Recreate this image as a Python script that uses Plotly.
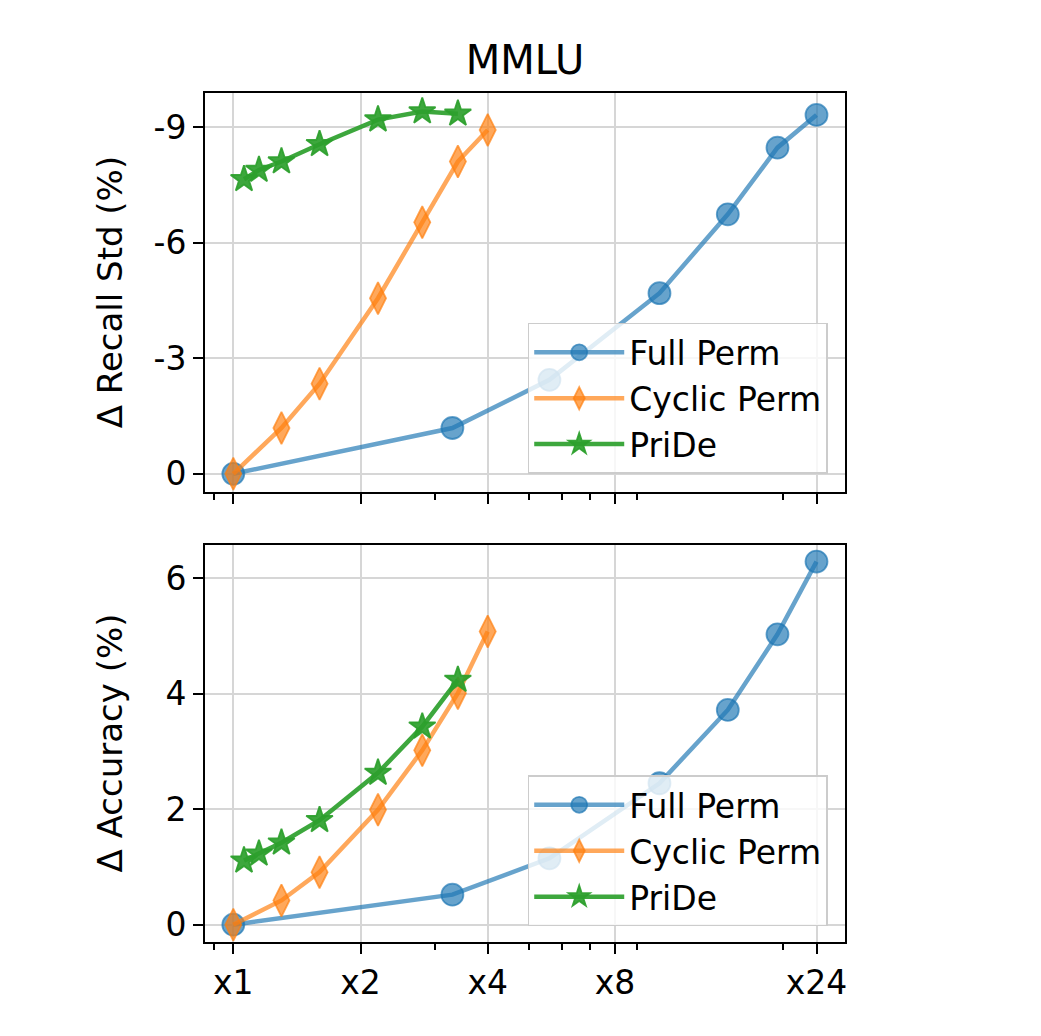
import math
import plotly.graph_objects as go

# ---------------- data ----------------
budget_full = [1, 3.3, 5.6, 10.2, 14.8, 19.4, 24]
budget_cyclic = [1, 1.3, 1.6, 2.2, 2.8, 3.4, 4]
budget_pride = [1.06, 1.15, 1.3, 1.6, 2.2, 2.8, 3.4]

recall_full = [0, -1.19, -2.44, -4.69, -6.74, -8.47, -9.32]
recall_cyclic = [0, -1.19, -2.34, -4.56, -6.53, -8.11, -8.93]
recall_pride = [-7.65, -7.89, -8.11, -8.56, -9.20, -9.41, -9.35]

acc_full = [0, 0.52, 1.15, 2.45, 3.72, 5.03, 6.29]
acc_cyclic = [0, 0.42, 0.91, 1.99, 3.02, 4.01, 5.08]
acc_pride = [1.11, 1.23, 1.42, 1.81, 2.63, 3.43, 4.24]

series_names = ["Full Perm", "Cyclic Perm", "PriDe"]
x_tickvals = [1, 2, 4, 8, 24]
x_ticktext = ["x1", "x2", "x4", "x8", "x24"]
x_minor = [0.9, 3, 5, 6, 7, 9, 20]
recall_tickvals = [0, -3, -6, -9]
recall_ticktext = ["0", "-3", "-6", "-9"]
acc_tickvals = [0, 2, 4, 6]
acc_ticktext = ["0", "2", "4", "6"]

# ---------------- style ----------------
FONT = "DejaVu Sans"
styles = [
    dict(rgb=(31, 119, 180), a=0.68, symbol="circle", size=22),
    dict(rgb=(255, 127, 14), a=0.68, symbol="diamond-tall", size=23),
    dict(rgb=(44, 160, 44), a=0.92, symbol="star", size=20),
]


def rgba(rgb, a):
    return "rgba(%d,%d,%d,%.3f)" % (rgb[0], rgb[1], rgb[2], a)


fig = go.Figure()

panels = [
    ([budget_full, budget_cyclic, budget_pride], [recall_full, recall_cyclic, recall_pride], "x", "y", "legend"),
    ([budget_full, budget_cyclic, budget_pride], [acc_full, acc_cyclic, acc_pride], "x2", "y2", "legend2"),
]

for xs_list, ys_list, xa, ya, lg in panels:
    for name, xs, ys, st in zip(series_names, xs_list, ys_list, styles):
        c = rgba(st["rgb"], st["a"])
        fig.add_trace(go.Scatter(
            x=xs, y=ys, name=name, mode="lines+markers",
            xaxis=xa, yaxis=ya, legend=lg,
            line=dict(color=c, width=4.5),
            marker=dict(symbol=st["symbol"], size=st["size"], color=c,
                        line=dict(color=c, width=1.8)),
        ))

xr = [math.log10(2 ** -0.2225), math.log10(2 ** 4.809)]

common_x = dict(
    type="log", range=xr, tickmode="array", tickvals=x_tickvals, ticktext=x_ticktext,
    showline=True, mirror=True, linecolor="black", linewidth=2,
    ticks="outside", ticklen=10, tickwidth=2, tickcolor="black",
    showgrid=True, gridcolor="#d6d6d6", gridwidth=1.5,
    minor=dict(tickmode="array", tickvals=x_minor, ticks="outside", ticklen=6,
               tickwidth=1.5, tickcolor="black", showgrid=False),
    tickfont=dict(family=FONT, size=33, color="black"),
)
common_y = dict(
    showline=True, mirror=True, linecolor="black", linewidth=2,
    ticks="outside", ticklen=10, tickwidth=2, tickcolor="black",
    showgrid=True, gridcolor="#d6d6d6", gridwidth=1.5, zeroline=False,
    tickfont=dict(family=FONT, size=33, color="black"),
)

legend_common = dict(
    xanchor="right", yanchor="bottom", x=0.973,
    bgcolor="rgba(255,255,255,0.8)", bordercolor="#cccccc", borderwidth=1.5,
    font=dict(family=FONT, size=33, color="black"),
    itemwidth=90, tracegroupgap=0,
)

fig.update_layout(
    width=1041, height=1036,
    margin=dict(l=197, r=204, t=85, b=102),
    paper_bgcolor="white", plot_bgcolor="white",
    font=dict(family=FONT, color="black"),
    showlegend=True,
    xaxis=dict(common_x, anchor="y", domain=[0, 1], showticklabels=False, matches="x2"),
    xaxis2=dict(common_x, anchor="y2", domain=[0, 1]),
    yaxis=dict(common_y, anchor="x", domain=[0.5306, 1.0], range=[0.46, -9.89],
               tickmode="array", tickvals=recall_tickvals, ticktext=recall_ticktext),
    yaxis2=dict(common_y, anchor="x2", domain=[0.0, 0.4678], range=[-0.30, 6.58],
                tickmode="array", tickvals=acc_tickvals, ticktext=acc_ticktext),
    legend=dict(legend_common, y=0.5514),
    legend2=dict(legend_common, y=0.0184),
    title=dict(text="MMLU", x=0.5, xref="paper", xanchor="center",
               y=1 - 52 / 1036, yanchor="middle", yref="container",
               font=dict(family=FONT, size=40, color="black")),
    annotations=[
        dict(text="Δ Recall Std (%)", textangle=-90, xref="paper", yref="paper",
             x=(110 - 205) / 640, y=0.5306 + (1 - 0.5306) / 2, xanchor="center", yanchor="middle",
             showarrow=False, font=dict(family=FONT, size=34, color="black")),
        dict(text="Δ Accuracy (%)", textangle=-90, xref="paper", yref="paper",
             x=(110 - 205) / 640, y=0.4678 / 2, xanchor="center", yanchor="middle",
             showarrow=False, font=dict(family=FONT, size=34, color="black")),
    ],
)

fig.write_html("out.html")
